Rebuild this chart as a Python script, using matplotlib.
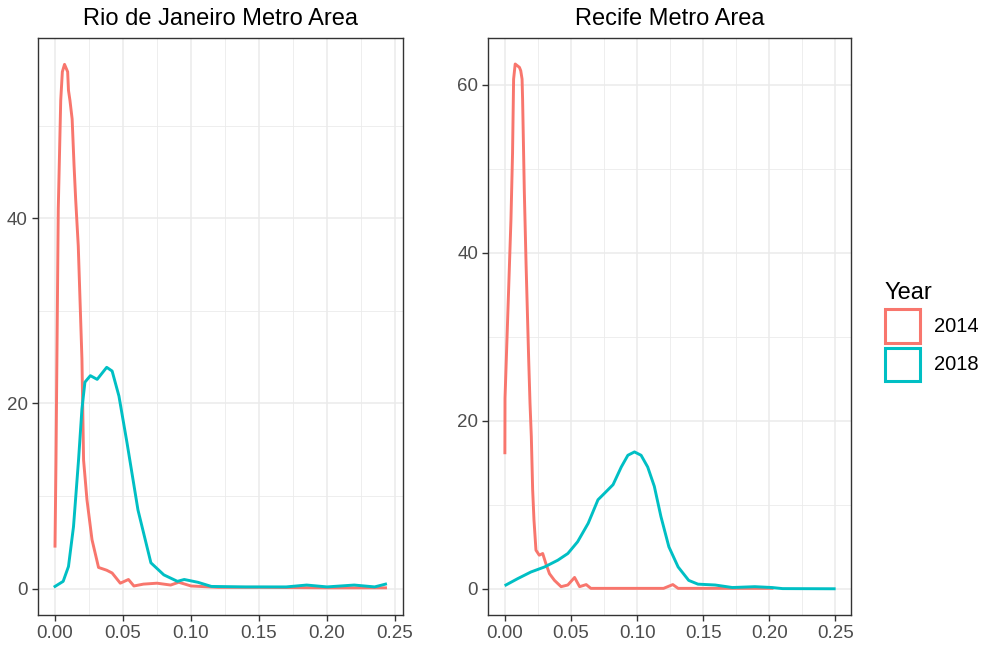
import matplotlib.pyplot as plt
from matplotlib.patches import Patch

plt.rcParams['font.family'] = ['Liberation Sans', 'DejaVu Sans']

# Rio de Janeiro, 2014
rio_x_2014 = [0.0, 0.0007, 0.0024, 0.0042, 0.0054, 0.007, 0.0093, 0.0099, 0.011, 0.0126,
              0.014, 0.0152, 0.0171, 0.0198, 0.021, 0.0235, 0.0272, 0.032, 0.038, 0.042,
              0.048, 0.054, 0.058, 0.065, 0.075, 0.085, 0.091, 0.1, 0.12, 0.15, 0.2, 0.243]
rio_y_2014 = [4.6, 13.6, 41.0, 52.7, 55.8, 56.6, 55.8, 53.8, 52.7, 50.7,
              45.7, 42.0, 37.0, 24.8, 13.9, 9.6, 5.3, 2.3, 2.0, 1.7,
              0.6, 1.0, 0.3, 0.5, 0.6, 0.4, 0.7, 0.3, 0.15, 0.15, 0.1, 0.1]

# Rio de Janeiro, 2018
rio_x_2018 = [0.0, 0.006, 0.0099, 0.0136, 0.0173, 0.0198, 0.022, 0.026, 0.031, 0.038,
              0.042, 0.047, 0.053, 0.061, 0.0705, 0.08, 0.09, 0.095, 0.105, 0.115,
              0.14, 0.17, 0.185, 0.2, 0.22, 0.235, 0.243]
rio_y_2018 = [0.25, 0.8, 2.4, 6.7, 13.9, 19.4, 22.3, 23.0, 22.6, 23.9,
              23.5, 20.8, 15.7, 8.5, 2.8, 1.5, 0.8, 1.0, 0.7, 0.25,
              0.2, 0.2, 0.4, 0.2, 0.4, 0.2, 0.5]

# Recife, 2014
rec_x_2014 = [0.0, 0.0001, 0.0046, 0.0058, 0.0066, 0.0078, 0.011, 0.012, 0.013, 0.0134,
              0.0147, 0.016, 0.018, 0.019, 0.020, 0.021, 0.022, 0.0235, 0.026, 0.0286,
              0.031, 0.0337, 0.0375, 0.0425, 0.0476, 0.0527, 0.0565, 0.0615, 0.065, 0.12,
              0.127, 0.131, 0.202]
rec_y_2014 = [16.2, 22.7, 44.0, 51.9, 60.7, 62.5, 62.1, 61.7, 60.7, 58.3,
              47.3, 38.8, 27.3, 22.1, 18.1, 11.8, 8.2, 4.6, 4.0, 4.2,
              3.0, 1.8, 1.0, 0.25, 0.45, 1.35, 0.25, 0.5, 0.05, 0.05,
              0.5, 0.05, 0.05]

# Recife, 2018
rec_x_2018 = [0.0008, 0.0096, 0.0197, 0.03, 0.04, 0.0476, 0.055, 0.063, 0.0704, 0.0755,
              0.0818, 0.088, 0.093, 0.098, 0.103, 0.108, 0.113, 0.118, 0.124, 0.131,
              0.139, 0.146, 0.159, 0.172, 0.189, 0.202, 0.21, 0.249]
rec_y_2018 = [0.45, 1.2, 2.0, 2.6, 3.4, 4.2, 5.6, 7.8, 10.6, 11.4,
              12.4, 14.5, 15.9, 16.3, 15.9, 14.5, 12.2, 8.6, 5.0, 2.6,
              1.0, 0.55, 0.45, 0.15, 0.25, 0.15, 0.02, 0.0]

years = ['2014', '2018']
col14 = '#F8766D'
col18 = '#00BFC4'

fig = plt.figure(figsize=(9.82, 6.47), dpi=100)
ax1 = fig.add_axes([0.0387, 0.0495, 0.3712, 0.8918])
ax2 = fig.add_axes([0.4973, 0.0495, 0.369, 0.8918])


def style(ax, yticks, yminor, title):
    ax.set_facecolor('white')
    ax.set_xticks([0, 0.05, 0.10, 0.15, 0.20, 0.25])
    ax.set_xticklabels(['0.00', '0.05', '0.10', '0.15', '0.20', '0.25'])
    ax.set_xticks([0.025, 0.075, 0.125, 0.175, 0.225], minor=True)
    ax.set_yticks(yticks)
    ax.set_yticks(yminor, minor=True)
    ax.grid(True, which='major', color='#EBEBEB', lw=1.1, zorder=0)
    ax.grid(True, which='minor', color='#EBEBEB', lw=0.6, zorder=0)
    ax.set_axisbelow(True)
    ax.tick_params(which='major', direction='out', length=4.3, width=1, color='#333333',
                   labelcolor='#4D4D4D', labelsize=13.5, pad=3)
    ax.tick_params(which='minor', length=0)
    for s in ax.spines.values():
        s.set_color('#333333')
        s.set_linewidth(1.0)
    ax.set_title(title, fontsize=17, color='black', pad=9)


ax1.plot(rio_x_2014, rio_y_2014, color=col14, lw=2.1)
ax1.plot(rio_x_2018, rio_y_2018, color=col18, lw=2.1)
ax1.set_xlim(-0.0125, 0.2555)
ax1.set_ylim(-2.83, 59.45)
style(ax1, [0, 20, 40], [10, 30, 50], 'Rio de Janeiro Metro Area')

ax2.plot(rec_x_2014, rec_y_2014, color=col14, lw=2.1)
ax2.plot(rec_x_2018, rec_y_2018, color=col18, lw=2.1)
ax2.set_xlim(-0.0125, 0.2615)
ax2.set_ylim(-3.12, 65.6)
style(ax2, [0, 20, 40, 60], [10, 30, 50], 'Recife Metro Area')

handles = [Patch(facecolor='white', edgecolor=col14, linewidth=2.2),
           Patch(facecolor='white', edgecolor=col18, linewidth=2.2)]
leg = fig.legend(handles, years, title='Year', loc='upper left',
                 bbox_to_anchor=(0.901, 0.5635), frameon=False,
                 fontsize=14.5, title_fontsize=17, handlelength=1.74, handleheight=2.15,
                 handletextpad=0.69, labelspacing=0.25, borderpad=0, borderaxespad=0)
leg._legend_box.align = 'left'

fig.savefig('out.png', dpi=100)
